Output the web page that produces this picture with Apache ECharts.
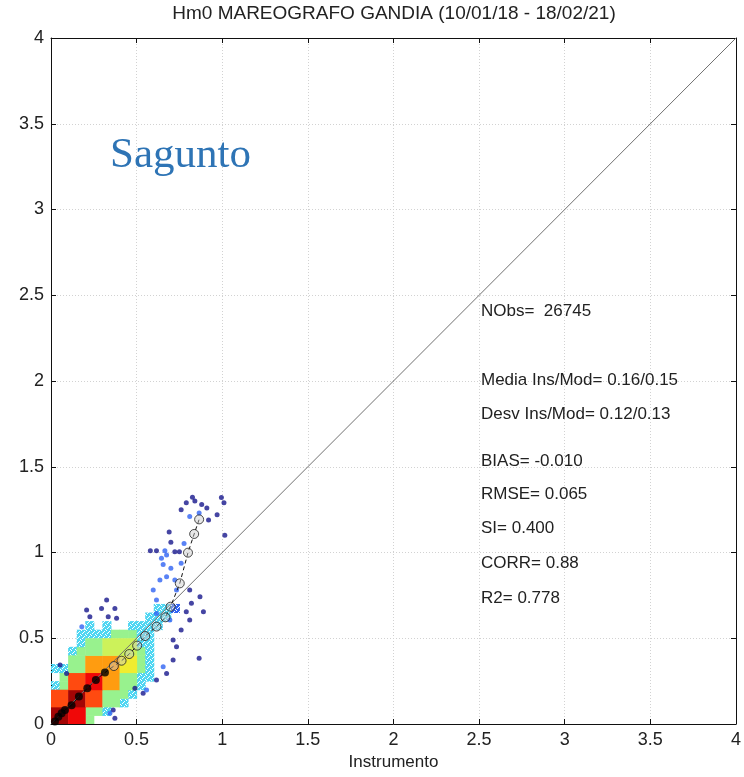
<!DOCTYPE html>
<html>
<head>
<meta charset="utf-8">
<title>Hm0 Sagunto</title>
<script src="https://cdn.jsdelivr.net/npm/echarts@6/dist/echarts.min.js"></script>
<style>
  html, body { margin: 0; padding: 0; background: #fff; }
  #chart { width: 744px; height: 777px; }
</style>
</head>
<body>
<div id="chart"></div>
<script>
// ejes
var axisTicks = [0, 0.5, 1, 1.5, 2, 2.5, 3, 3.5, 4];

// celdas de densidad 0.1 x 0.1 : [x0, y0, nivel]
var coreCells = [
  [0.0, 0.0, 10], [0.1, 0.0, 9],
  [0.0, 0.1, 8], [0.1, 0.1, 10], [0.2, 0.1, 8], [0.3, 0.1, 4],
  [0.1, 0.2, 8], [0.2, 0.2, 9], [0.3, 0.2, 7], [0.4, 0.2, 4],
  [0.1, 0.3, 4], [0.2, 0.3, 7], [0.3, 0.3, 7], [0.4, 0.3, 6],
  [0.2, 0.4, 4], [0.3, 0.4, 5], [0.4, 0.4, 5]
];

// borde disperso 0.05 x 0.05 : [x0, y0, nivel]
var fringeCells = [
  [0.20, 0.00, 4], [0.20, 0.05, 4], [0.25, 0.05, 4], [0.30, 0.05, 3],
  [0.40, 0.10, 3], [0.40, 0.15, 4], [0.45, 0.15, 3],
  [0.50, 0.20, 3], [0.50, 0.25, 3], [0.55, 0.25, 3],
  [0.50, 0.30, 4], [0.50, 0.35, 4], [0.55, 0.30, 3], [0.55, 0.35, 3],
  [0.50, 0.40, 4], [0.50, 0.45, 3], [0.55, 0.40, 3], [0.55, 0.45, 3],
  [0.00, 0.20, 3], [0.05, 0.20, 4], [0.05, 0.25, 4],
  [0.00, 0.30, 3], [0.05, 0.30, 3],
  [0.10, 0.40, 3], [0.15, 0.40, 4], [0.15, 0.45, 3],
  [0.15, 0.50, 3], [0.20, 0.50, 3], [0.25, 0.50, 3], [0.30, 0.50, 3],
  [0.35, 0.50, 4], [0.40, 0.50, 4], [0.45, 0.50, 4], [0.50, 0.50, 3], [0.55, 0.50, 3],
  [0.20, 0.55, 3], [0.30, 0.55, 3], [0.45, 0.55, 3], [0.50, 0.55, 3], [0.55, 0.55, 3], [0.60, 0.55, 3],
  [0.55, 0.60, 3], [0.60, 0.60, 3], [0.65, 0.60, 3],
  [0.60, 0.65, 3], [0.65, 0.65, 3], [0.70, 0.65, 2]
];

// puntos sueltos : [x, y, nivel]
var loosePoints = [
  [0.826, 1.322, 1], [0.84, 1.30, 1], [0.79, 1.29, 1], [0.88, 1.28, 1], [0.91, 1.26, 1],
  [0.76, 1.25, 1], [0.995, 1.32, 1], [1.01, 1.29, 1], [0.97, 1.22, 1], [0.92, 1.19, 1],
  [0.81, 1.21, 2], [0.865, 1.23, 2], [1.015, 1.10, 1], [0.69, 1.12, 1], [0.70, 1.06, 1],
  [0.58, 1.01, 1], [0.616, 1.01, 1], [0.665, 1.01, 2], [0.675, 0.985, 2], [0.645, 0.966, 2],
  [0.655, 0.93, 2], [0.723, 1.005, 1], [0.75, 1.005, 1], [0.777, 1.053, 2], [0.76, 0.937, 2],
  [0.70, 0.908, 2], [0.675, 0.859, 2], [0.636, 0.84, 2], [0.597, 0.781, 2], [0.616, 0.723, 2],
  [0.723, 0.84, 2], [0.733, 0.781, 2], [0.81, 0.781, 1], [0.87, 0.742, 1], [0.82, 0.704, 1],
  [0.79, 0.655, 1], [0.81, 0.606, 1], [0.76, 0.548, 1], [0.713, 0.49, 1], [0.865, 0.383, 1],
  [0.733, 0.451, 1], [0.616, 0.645, 2], [0.694, 0.606, 2], [0.89, 0.655, 1],
  [0.325, 0.723, 1], [0.295, 0.674, 1], [0.373, 0.674, 1], [0.208, 0.665, 1], [0.227, 0.626, 1],
  [0.383, 0.616, 1], [0.334, 0.626, 1], [0.18, 0.567, 2], [0.053, 0.344, 1], [0.091, 0.295, 1],
  [0.538, 0.179, 1], [0.49, 0.208, 1], [0.616, 0.257, 1], [0.363, 0.082, 1], [0.373, 0.033, 1],
  [0.344, 0.062, 2], [0.558, 0.198, 2], [0.675, 0.295, 1], [0.713, 0.373, 1], [0.655, 0.334, 2]
];

// cuantiles : [x, y]
var qqFilled = [
  [0.023, 0.014], [0.043, 0.043], [0.062, 0.062], [0.082, 0.082], [0.12, 0.11],
  [0.163, 0.16], [0.212, 0.208], [0.262, 0.257], [0.315, 0.30]
];
var qqOpen = [
  [0.367, 0.338], [0.412, 0.369], [0.457, 0.408], [0.503, 0.457], [0.55, 0.513],
  [0.616, 0.568], [0.668, 0.622], [0.698, 0.684], [0.752, 0.82], [0.80, 0.999],
  [0.836, 1.108], [0.865, 1.193]
];

// recta 1:1
var identityLine = [[0, 0], [4, 4]];

var statLines = [
  'NObs=  26745',
  'Media Ins/Mod= 0.16/0.15',
  'Desv Ins/Mod= 0.12/0.13',
  'BIAS= -0.010',
  'RMSE= 0.065',
  'SI= 0.400',
  'CORR= 0.88',
  'R2= 0.778'
];
var statTops = [303, 372, 406, 453, 486, 520, 555, 590];

// colores tipo "jet" por nivel
var levelColors = ['#ffffff', '#16168c', '#2f63f2', '#4fd6f2', '#98f28e', '#ccf25a',
  '#f0ec30', '#ff9c10', '#ff4a10', '#f00808', '#a30505'];

// textura punteada para el borde disperso
var speckleCache = {};
function speckle(color) {
  if (speckleCache[color]) return speckleCache[color];
  var c = document.createElement('canvas');
  c.width = 5; c.height = 5;
  var ctx = c.getContext('2d');
  ctx.fillStyle = color;
  ctx.fillRect(0, 0, 5, 5);
  // huecos blancos
  [[1, 0], [4, 1], [2, 3], [0, 4], [3, 2]].forEach(function (h) { ctx.clearRect(h[0], h[1], 1, 1); });
  speckleCache[color] = { image: c, repeat: 'repeat' };
  return speckleCache[color];
}

var chartDom = document.getElementById('chart');
var myChart = echarts.init(chartDom);
var option;

function cellRenderer(size, speckled) {
  return function (params, api) {
    var x = api.value(0), y = api.value(1), lv = api.value(2);
    var a = api.coord([x, y + size]);
    var b = api.coord([x + size, y]);
    var col = levelColors[lv];
    return {
      type: 'rect',
      shape: { x: a[0], y: a[1], width: b[0] - a[0] + 0.5, height: b[1] - a[1] + 0.5 },
      style: { fill: (speckled && lv <= 3) ? speckle(col) : col }
    };
  };
}

var labelStyle = { fontFamily: 'Liberation Sans', fontSize: 18, color: '#222' };

function valueAxis(pos, showLabels) {
  return {
    type: 'value',
    position: pos,
    min: 0,
    max: 4,
    interval: 0.5,
    axisLine: { show: true, onZero: false, lineStyle: { color: '#111', width: 1 } },
    axisTick: { show: true, inside: true, length: 5, lineStyle: { color: '#111' } },
    axisLabel: Object.assign({ show: showLabels, margin: 7 }, labelStyle),
    splitLine: { show: showLabels, lineStyle: { color: '#d2d2d2', type: [1, 2], width: 1 } }
  };
}

var xMain = valueAxis('bottom', true);
xMain.name = 'Instrumento';
xMain.nameLocation = 'middle';
xMain.nameGap = 30;
xMain.nameTextStyle = { fontFamily: 'Liberation Sans', fontSize: 17, color: '#222' };

option = {
  animation: false,
  backgroundColor: '#fff',
  grid: { left: 51, right: 7, top: 38, bottom: 53 },
  xAxis: [xMain, valueAxis('top', false)],
  yAxis: [valueAxis('left', true), valueAxis('right', false)],
  graphic: [
    {
      type: 'text', x: 394, y: 4,
      style: { text: 'Hm0 MAREOGRAFO GANDIA (10/01/18 - 18/02/21)', align: 'center',
        fontFamily: 'Liberation Sans', fontSize: 19, fill: '#222' }
    },
    {
      type: 'text', x: 110, y: 134, z: 10,
      style: { text: 'Sagunto', fontFamily: 'Liberation Serif', fontSize: 43, fill: '#2e74b5' }
    }
  ].concat(statLines.map(function (t, i) {
    return {
      type: 'text', x: 481, y: statTops[i], z: 10,
      style: { text: t, fontFamily: 'Liberation Sans', fontSize: 17, fill: '#222' }
    };
  })),
  series: [
    {
      type: 'custom', name: 'borde', renderItem: cellRenderer(0.05, true), clip: true,
      encode: { x: 0, y: 1 }, data: fringeCells, z: 1
    },
    {
      type: 'custom', name: 'densidad', renderItem: cellRenderer(0.1, false), clip: true,
      encode: { x: 0, y: 1 }, data: coreCells, z: 2
    },
    {
      type: 'scatter', name: 'puntos', data: loosePoints, symbolSize: 5, z: 3,
      itemStyle: { color: function (p) { return levelColors[p.value[2]]; } }
    },
    {
      type: 'line', name: '1:1', data: identityLine, symbol: 'none', z: 4,
      lineStyle: { color: '#707070', width: 1 }
    },
    {
      type: 'line', name: 'qq', data: qqFilled.concat(qqOpen), symbol: 'none', z: 5,
      lineStyle: { color: '#111', width: 1, type: [4, 3] }
    },
    {
      type: 'scatter', name: 'qq1', data: qqFilled, symbol: 'circle', symbolSize: 8, z: 6,
      itemStyle: { color: '#000' }
    },
    {
      type: 'scatter', name: 'qq2', data: qqOpen, symbol: 'circle', symbolSize: 9, z: 6,
      itemStyle: { color: 'rgba(200,200,200,0.55)', borderColor: '#222', borderWidth: 1 }
    }
  ]
};

option && myChart.setOption(option);
</script>
</body>
</html>
